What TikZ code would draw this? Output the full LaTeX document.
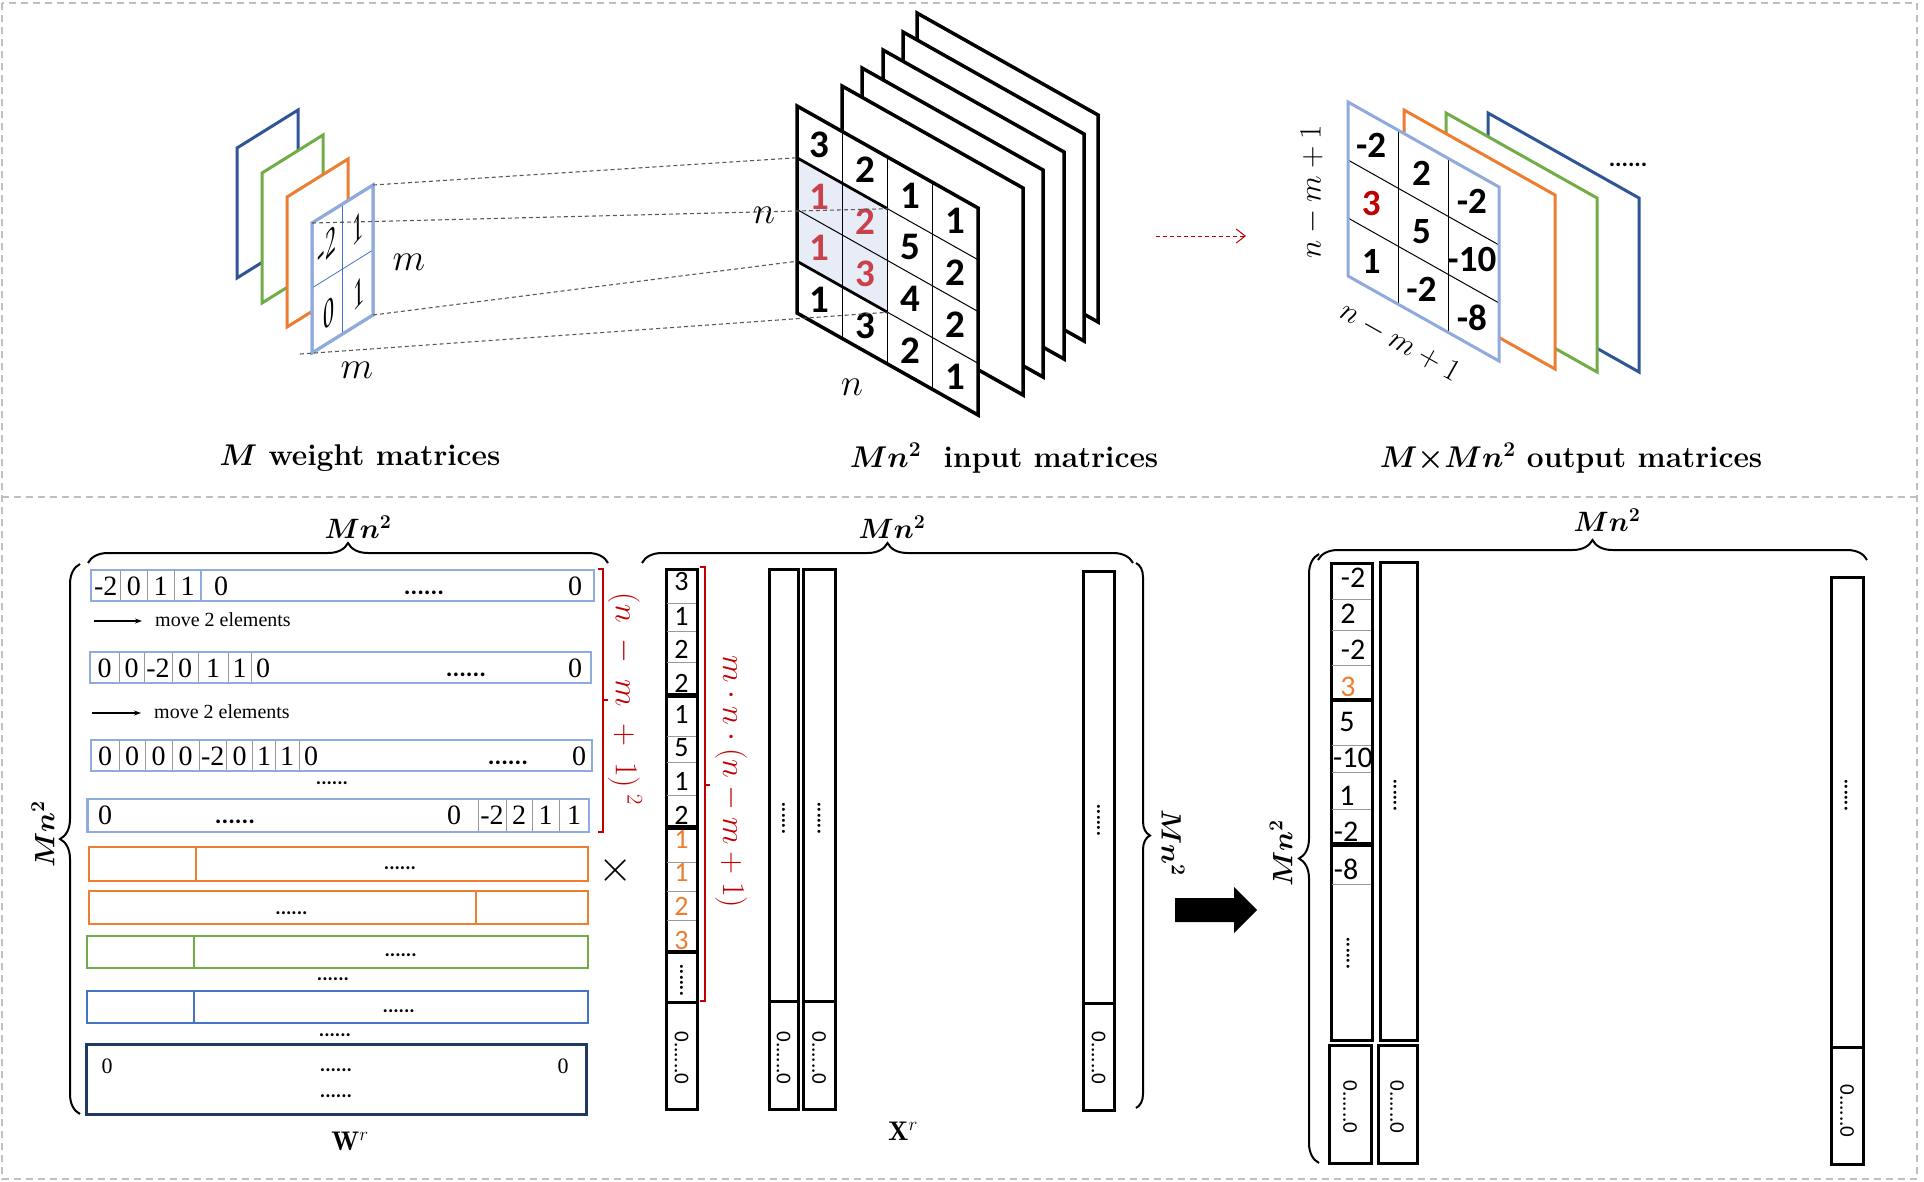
\RequirePackage{fix-cm}
\documentclass[tikz,border=0pt]{standalone}
\usepackage{fontspec}
\newfontfamily\cali{Carlito}
\newfontfamily\tms{Liberation Serif}
\usetikzlibrary{arrows.meta,decorations.pathreplacing,calc}
\newcommand\setfs[1]{\fontsize{#1}{#1}\selectfont}
\newcommand\bmth[1]{{\boldmath$#1$}}
\definecolor{wlb}{HTML}{8FAADC}
\definecolor{worg}{HTML}{ED7D31}
\definecolor{wgrn}{HTML}{70AD47}
\definecolor{wblu}{HTML}{2F5597}
\definecolor{wblu2}{HTML}{4472C4}
\definecolor{wnavy}{HTML}{203864}
\definecolor{hlfill}{HTML}{E8ECF7}
\definecolor{redA}{HTML}{C00000}
\definecolor{redB}{HTML}{C8414B}
\definecolor{sepgray}{HTML}{BFBFBF}
\definecolor{projgray}{HTML}{595959}
\begin{document}
\begin{tikzpicture}[x=1pt,y=-1pt,
  wfr/.style={line width=3pt, fill=white, line join=miter},
  ifr/.style={line width=3.5pt, fill=white, line join=miter},
  ofr/.style={line width=3pt, fill=white, line join=miter},
  proj/.style={projgray, line width=1.1pt, dash pattern=on 4pt off 3pt},
  bignum/.style={font=\cali\bfseries\setfs{39}, inner sep=0pt},
  wnum/.style={font=\tms\setfs{40}, inner sep=0pt, xscale=0.55, yslant=0.62},
  mlab/.style={font=\setfs{38}, inner sep=0pt},
  titl/.style={font=\bfseries\setfs{30}, inner sep=0pt},
  wrow/.style={line width=2.5pt},
  celln/.style={gray!80, line width=0.8pt},
  wdig/.style={font=\tms\setfs{28}, inner sep=0pt},
  dotx/.style={font=\cali\bfseries\setfs{20}, inner sep=0pt},
  vdotx/.style={font=\cali\bfseries\setfs{20}, inner sep=0pt, rotate=90},
  mvtxt/.style={font=\tms\setfs{20}, inner sep=0pt, anchor=west},
  mvarr/.style={line width=1.2pt, -{Stealth[length=7pt,width=5pt]}},
  bracea/.style={decorate, decoration={brace, amplitude=20pt}, line width=2pt},
  braceb/.style={decorate, decoration={brace, amplitude=14pt}, line width=2pt},
  rbr/.style={redA, line width=2.5pt},
  xblk/.style={line width=3pt},
  xdig/.style={font=\cali\setfs{28}, inner sep=0pt},
  odig/.style={font=\cali\setfs{30}, inner sep=0pt},
  ztxt/.style={font=\cali\setfs{21}, inner sep=0pt, rotate=-90},
  mnlab/.style={font=\setfs{28}, inner sep=0pt},
  sepline/.style={sepgray, line width=1.5pt, dash pattern=on 7pt off 5pt},
]
\useasboundingbox (0,0) rectangle (1924,1181);
% ---------- separators ----------
\draw[sepline] (2,3) rectangle (1917,1179);
\draw[sepline] (2,497) -- (1917,497);

% ---------- weight matrices ----------
\foreach \c/\x/\y in {wblu/237/148, wgrn/262/173, worg/287/197}
  \draw[wfr, draw=\c] (\x,\y) -- ++(61,-38) -- ++(0,130) -- (\x,\y+130) -- cycle;
\coordinate (wTL) at (312,223);
\coordinate (wTR) at (373,185);
\coordinate (wBR) at (373,315);
\coordinate (wBL) at (312,353);
\draw[wfr, draw=wlb] (wTL) -- (wTR) -- (wBR) -- (wBL) -- cycle;
\draw[wblu2, line width=0.8pt] ($(wTL)!0.5!(wTR)$) -- ($(wBL)!0.5!(wBR)$);
\draw[wblu2, line width=0.8pt] ($(wTL)!0.5!(wBL)$) -- ($(wTR)!0.5!(wBR)$);
\draw[wlb, line width=3pt] (wTL) -- (wTR) -- (wBR) -- (wBL) -- cycle;
\node[wnum] (w00) at (327,246) {-2};
\node[wnum] (w01) at (358,228) {1};
\node[wnum] (w10) at (329,313) {0};
\node[wnum] (w11) at (359,293) {1};
\node[mlab] (mR) at (409,262) {$m$};
\node[mlab] (mB) at (357,370) {$m$};

% ---------- input matrices ----------
\foreach \x/\y in {917/13, 903/32, 883/50, 862/68, 842/86}
  \draw[ifr] (\x,\y) -- ++(181,102) -- ++(0,207) -- (\x,\y+207) -- cycle;
\coordinate (iTL) at (797,106);
\coordinate (iTR) at (978,208);
\coordinate (iBR) at (978,415);
\coordinate (iBL) at (797,313);
\fill[white] (iTL) -- (iTR) -- (iBR) -- (iBL) -- cycle;
\coordinate (hlTL) at (797,157.75);
\coordinate (hlTR) at (887.5,208.75);
\coordinate (hlBR) at (887.5,312.25);
\coordinate (hlBL) at (797,261.25);
\fill[hlfill] (hlTL) -- (hlTR) -- (hlBR) -- (hlBL) -- cycle;
\foreach \k in {0.25,0.5,0.75} {
  \draw[line width=1pt] ($(iTL)!\k!(iTR)$) -- ($(iBL)!\k!(iBR)$);
  \draw[line width=1pt] ($(iTL)!\k!(iBL)$) -- ($(iTR)!\k!(iBR)$);
}
\draw[line width=2.8pt] (hlTL) -- (hlTR);
\draw[line width=2.8pt] (hlBL) -- (hlBR);
\draw[line width=1.6pt] (hlTR) -- (hlBR);
\draw[ifr, fill=none] (iTL) -- (iTR) -- (iBR) -- (iBL) -- cycle;
\foreach \r/\c/\v/\k in {0/0/3/black,0/1/2/black,0/2/1/black,0/3/1/black,
  1/0/1/redB,1/1/2/redB,1/2/5/black,1/3/2/black,
  2/0/1/redB,2/1/3/redB,2/2/4/black,2/3/2/black,
  3/0/1/black,3/1/3/black,3/2/2/black,3/3/1/black}
  \node[bignum, text=\k] (in\r\c) at ({797+(\c+0.5)*45.25},{106+(\c+0.5)*25.5+(\r+0.5)*51.75}) {\v};
\node[mlab] (nL) at (764,215) {$n$};
\node[mlab] (nB) at (852,387) {$n$};

% ---------- projection lines ----------
\coordinate (wL4) at (300,354);
\draw[proj] (wTR) -- (hlTL);
\draw[proj] (wTL) -- (hlTR);
\draw[proj] (wBR) -- (hlBL);
\draw[proj] (wL4) -- (hlBR);

% ---------- red dashed arrow ----------
\coordinate (ra1) at (1156,236);
\coordinate (ra2) at (1246,236);
\draw[redA, line width=1pt, dash pattern=on 4pt off 3pt, -{Straight Barb[length=9pt,width=14pt]}] (ra1) -- (ra2);

% ---------- output matrices ----------
\foreach \c/\x/\y in {wblu/1488/113, wgrn/1446/113, worg/1404/110}
  \draw[ofr, draw=\c] (\x,\y) -- ++(151,85) -- ++(0,174) -- (\x,\y+174) -- cycle;
\coordinate (oTL) at (1348,102);
\coordinate (oTR) at (1499,187);
\coordinate (oBR) at (1499,361);
\coordinate (oBL) at (1348,276);
\fill[white] (oTL) -- (oTR) -- (oBR) -- (oBL) -- cycle;
\foreach \k in {0.3333,0.6667} {
  \draw[line width=1pt] ($(oTL)!\k!(oTR)$) -- ($(oBL)!\k!(oBR)$);
  \draw[line width=1pt] ($(oTL)!\k!(oBL)$) -- ($(oTR)!\k!(oBR)$);
}
\draw[ofr, fill=none, draw=wlb] (oTL) -- (oTR) -- (oBR) -- (oBL) -- cycle;
\foreach \r/\c/\v/\k in {0/0/-2/black,0/1/2/black,0/2/-2/black,
  1/0/3/redA,1/1/5/black,1/2/-10/black,
  2/0/1/black,2/1/-2/black,2/2/-8/black}
  \node[bignum, font=\cali\bfseries\setfs{37}, text=\k] (out\r\c) at ({1346+(\c+0.5)*50.33},{102+(\c+0.5)*28.33+(\r+0.5)*58}) {\v};
\node[dotx, font=\cali\bfseries\setfs{24}] (odots) at (1628,165) {......};
\node[mnlab, rotate=90, font=\setfs{31}] (onl) at (1312,192) {$n-m+1$};
\node[mnlab, rotate=-29.4, font=\setfs{31}] (onb) at (1400,342) {$n-m+1$};

% ---------- titles ----------
\node[titl] (t1) at (360,458) {\bmth{M} weight matrices};
\node[titl] (t2) at (1004,458) {\bmth{Mn^2}\ \ input matrices};
\node[titl] (t3) at (1571,458) {\bmth{M{\times}Mn^2} output matrices};

% =========== bottom: W^r ===========
\draw[bracea] (88,563) -- (608,563);
\node[mnlab] (wMnT) at (358,527) {\bmth{Mn^2}};
\draw[bracea] (80,1114) -- (80,564);
\node[mnlab, rotate=90] (wMnL) at (43,834) {\bmth{Mn^2}};

\draw[wlb, wrow] (91,570) rectangle (594,601);
\foreach \x in {120.5,147,174} \draw[celln] (\x,571) -- (\x,600);
\draw[wlb, line width=2pt] (201,571) -- (201,600);
\foreach \x/\t [count=\i] in {105.75/-2,133.75/0,160.5/1,187.5/1,221/0,575/0}
  \node[wdig] (wra\i) at (\x,586) {\t};
\node[dotx, font=\cali\bfseries\setfs{25}] (wradots) at (424,593) {......};

\coordinate (mv1s) at (94,621);
\coordinate (mv1e) at (142,621);
\draw[mvarr] (mv1s) -- (mv1e);
\node[mvtxt] (mv1t) at (155,620) {move 2 elements};

\draw[wlb, wrow] (90,652) rectangle (591,683);
\foreach \x in {119,144,172,198.5,228,251} \draw[celln] (\x,653) -- (\x,682);
\foreach \x/\t [count=\i] in {104.5/0,131.5/0,158/-2,185/0,213/1,239.5/1,263/0,575/0}
  \node[wdig] (wrb\i) at (\x,668) {\t};
\node[dotx, font=\cali\bfseries\setfs{25}] (wrbdots) at (466,675) {......};

\coordinate (mv2s) at (92,713);
\coordinate (mv2e) at (141,713);
\draw[mvarr] (mv2s) -- (mv2e);
\node[mvtxt] (mv2t) at (154,712) {move 2 elements};

\draw[wlb, wrow] (91,740) rectangle (592,771);
\foreach \x in {119,145,172,199,226.5,252.5,275.5,299} \draw[celln] (\x,741) -- (\x,770);
\foreach \x/\t [count=\i] in {105/0,132/0,158.5/0,185.5/0,212.75/-2,239.5/0,264/1,287/1,311/0,579/0}
  \node[wdig] (wrc\i) at (\x,756) {\t};
\node[dotx, font=\cali\bfseries\setfs{25}] (wrcdots) at (508,763) {......};
\node[dotx] (wrcdots2) at (332,783) {......};

\draw[wlb, wrow] (87.5,799) rectangle (589,832);
\foreach \x in {478,506,532,559} \draw[celln] (\x,800) -- (\x,831);
\foreach \x/\t [count=\i] in {105/0,454/0,492/-2,519/2,545.5/1,574/1}
  \node[wdig] (wrd\i) at (\x,815) {\t};
\node[dotx, font=\cali\bfseries\setfs{25}] (wrddots) at (235,822) {......};

\draw[worg, wrow] (89,847) rectangle (588,881);
\draw[worg, line width=2pt] (196,847) -- (196,881);
\node[dotx] (or1dots) at (400,868) {......};
\draw[worg, wrow] (89,891) rectangle (588,924);
\draw[worg, line width=1.5pt] (476,891) -- (476,924);
\node[dotx] (or2dots) at (291.5,913) {......};
\draw[wgrn, wrow] (87,936) rectangle (588,968);
\draw[wgrn, line width=2pt] (194,936) -- (194,968);
\node[dotx] (grdots) at (400.6,955) {......};
\node[dotx] (grdots2) at (333,979) {......};
\draw[wblu2, wrow] (87,991) rectangle (588,1023);
\draw[wblu2, line width=2pt] (194,991) -- (194,1023);
\node[dotx] (bldots) at (398.7,1011) {......};
\node[dotx] (bldots2) at (335,1035) {......};
\draw[wnavy, line width=3pt] (86,1044) rectangle (586,1114);
\node[wdig, font=\tms\setfs{22}] (nvz1) at (107,1066) {0};
\node[dotx] (nvdots1) at (336,1070) {......};
\node[wdig, font=\tms\setfs{22}] (nvz2) at (563,1066) {0};
\node[dotx] (nvdots2) at (336,1096) {......};
\node[font=\setfs{27}, inner sep=0pt] (Wr) at (350,1141) {$\mathbf{W}^{r}$};

\draw[rbr] (598,569) -- (603,569) -- (603,832) -- (598,832);
\draw[rbr] (603,700) -- (608,700);
\node[mnlab, rotate=-90, text=redA, font=\setfs{32}] (rlab1) at (625,699) {$(n\;-\;m\;+\;1)^{\;2}$};

\node[font=\setfs{44}, inner sep=0pt] (times) at (616,870) {$\times$};

% =========== bottom: X^r ===========
\draw[bracea] (642,563) -- (1133,563);
\node[mnlab] (xMnT) at (892,527) {\bmth{Mn^2}};
\draw[braceb] (1136,563) -- (1136,1108);
\node[mnlab, rotate=-90] (xMnR) at (1173,843) {\bmth{Mn^2}};

\foreach \ya/\yb in {569/694, 696/826, 828/951, 952/1002, 1002/1109}
  \draw[xblk] (666,\ya) rectangle (697,\yb);
\foreach \y in {603,631,662,736,762,795,862,891,920}
  \draw[celln] (667,\y) -- (696,\y);
\foreach \y/\t/\k [count=\i] in {582/3/black,616/1/black,649/2/black,683/2/black,
  714/1/black,748/5/black,781/1/black,815/2/black,
  839/1/worg,872/1/worg,906/2/worg,940/3/worg}
  \node[xdig, text=\k] (xa\i) at (681.5,\y) {\t};
\node[vdotx] (xavd) at (681.5,980) {......};
\node[ztxt] (xaz) at (681.5,1058) {0......0};

\draw[xblk] (769,569) rectangle (798,1001);
\draw[xblk] (769,1001) rectangle (798,1109);
\node[vdotx] (xbvd) at (783.5,818) {......};
\node[ztxt] (xbz) at (783.5,1058) {0......0};
\draw[xblk] (803,569) rectangle (835,1001);
\draw[xblk] (803,1001) rectangle (835,1109);
\node[vdotx] (xcvd) at (819,818) {......};
\node[ztxt] (xcz) at (819,1058) {0......0};
\draw[xblk] (1083,571) rectangle (1114,1003);
\draw[xblk] (1083,1003) rectangle (1114,1110);
\node[vdotx] (xdvd) at (1098.5,820) {......};
\node[ztxt] (xdz) at (1098.5,1058) {0......0};

\draw[rbr] (700,567) -- (705,567) -- (705,1001) -- (700,1001);
\draw[rbr] (705,785) -- (710,785);
\node[mnlab, rotate=-90, text=redA, font=\setfs{32}] (rlab2) at (731,782) {$m\cdot n\cdot (n-m+1)$};

\node[font=\setfs{27}, inner sep=0pt] (Xr) at (903,1131) {$\mathbf{X}^{r}$};

% big arrow
\fill (1175,898) -- (1234,898) -- (1234,887) -- (1257,910) -- (1234,933) -- (1234,922) -- (1175,922) -- cycle;

% =========== bottom: output ===========
\draw[bracea] (1318,560) -- (1867,560);
\node[mnlab] (oMnT) at (1607,520) {\bmth{Mn^2}};
\draw[bracea] (1319,1163) -- (1319,554);
\node[mnlab, rotate=90] (oMnL) at (1281,853) {\bmth{Mn^2}};

\draw[xblk] (1331,563) rectangle (1372,699);
\draw[xblk] (1331,700) rectangle (1372,843);
\draw[xblk] (1331,845) rectangle (1372,1040);
\draw[xblk] (1329,1045) rectangle (1371,1163);
\foreach \y in {599,630,665,745,772,809,884}
  \draw[celln] (1332,\y) -- (1371,\y);
\foreach \x/\y/\t/\k [count=\i] in {1353/578/-2/black,1348/614/2/black,1353/650/-2/black,1348/687/3/worg,
  1347/722/5/black,1353/758/-10/black,1347/796/1/black,1346/832/-2/black,1346/869.5/-8/black}
  \node[odig, text=\k] (oa\i) at (\x,\y) {\t};
\node[vdotx] (oavd) at (1348,953) {......};
\node[ztxt] (oaz) at (1350,1107) {0......0};

\draw[xblk] (1380,562) rectangle (1417,1040);
\draw[xblk] (1378,1045) rectangle (1417,1163);
\node[vdotx] (obvd) at (1395,795) {......};
\node[ztxt] (obz) at (1397,1107) {0......0};

\draw[xblk] (1831,577) rectangle (1863.5,1047);
\draw[xblk] (1831,1047) rectangle (1863.5,1164);
\node[vdotx] (ocvd) at (1846,795) {......};
\node[ztxt] (ocz) at (1847,1111) {0......0};
\end{tikzpicture}
\end{document}
